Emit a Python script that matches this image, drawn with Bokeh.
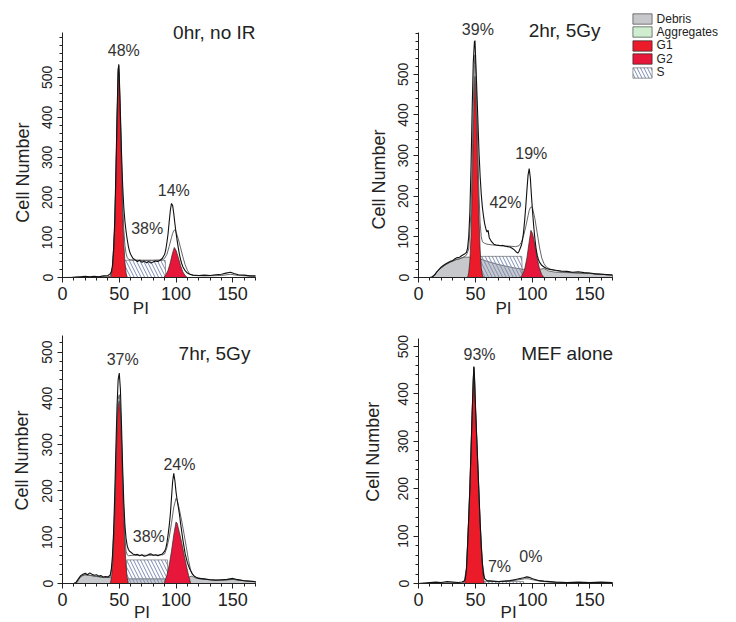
from math import pi
from bokeh.plotting import figure
from bokeh.models import Range1d, FixedTicker, Label, Legend, LegendItem
from bokeh.layouts import column, row
from bokeh.embed import file_html
from bokeh.resources import INLINE

# ---------------- data (PI channel, cell number) ----------------
X_TICKS = [0, 50, 100, 150]
Y_TICKS = [0, 100, 200, 300, 400, 500]
LEGEND_LABELS = ["Debris", "Aggregates", "G1", "G2", "S"]

# Panel 1: 0hr, no IR
tl_data = [(0,0),(8,0),(12,1),(16,2),(20,3),(24,2),(28,3),(32,2),(36,4),(40,5),(42,9),(43,14),(44,30),(45,70),(46,140),(47,260),(48,400),(49,520),(49.5,530),(50,505),(51,410),(52,310),(53,230),(54,175),(55,140),(56,115),(57,95),(58,78),(59,66),(60,58),(62,48),(64,44),(66,40),(68,43),(70,38),(72,41),(74,37),(76,40),(78,36),(80,39),(82,41),(84,40),(86,43),(88,48),(90,58),(91,70),(92,88),(93,110),(94,140),(95,168),(96,185),(97,180),(98,160),(99,135),(100,112),(101,92),(102,74),(103,58),(104,45),(105,35),(106,27),(108,17),(110,11),(112,8),(115,6),(120,5),(125,6),(130,5),(135,7),(140,8),(144,11),(148,13),(151,10),(155,7),(160,6),(165,4),(170,4)]
tl_fit = [(0,0),(20,1),(40,2),(42,3),(44,24),(46,128),(47,243),(48,383),(49,508),(49.5,533),(50,500),(51,400),(52,290),(53,190),(54,120),(55,80),(56,60),(57,50),(58,46),(60,44),(70,43),(80,43),(88,44),(90,48),(92,58),(94,78),(96,100),(97,110),(98,117),(99,119),(100,114),(102,96),(104,74),(106,52),(108,32),(110,18),(112,9),(115,5),(125,4),(140,5),(148,8),(155,5),(170,3)]
tl_g1 = [(42,0),(43,5),(44,22),(45,60),(46,125),(47,240),(48,380),(49,505),(49.5,530),(50,495),(51,390),(52,270),(53,160),(54,85),(55,38),(56,12),(57,0)]
tl_g2 = [(89,0),(91,6),(93,18),(95,38),(97,62),(98.5,75),(100,68),(102,50),(104,30),(106,14),(108,5),(110,0)]
tl_s = [(54,0),(54.5,43),(90.5,43),(91,0)]
tl_debris = [(0,0),(170,0)]
tl_aggr = [(0,0),(170,0)]

# Panel 2: 2hr, 5Gy
tr_data = [(0,0),(10,0),(12,2),(14,6),(16,14),(18,20),(20,26),(22,30),(24,34),(26,37),(28,40),(30,42),(32,46),(34,49),(36,50),(38,54),(40,57),(42,62),(43,72),(44,100),(45,160),(46,270),(47,410),(48,530),(49,580),(49.5,583),(50,545),(51,470),(52,390),(53,310),(54,250),(55,205),(56,172),(57,150),(58,132),(59,120),(60,112),(61,116),(62,98),(64,88),(66,82),(68,80),(70,79),(72,78),(74,79),(76,77),(78,76),(80,75),(82,72),(84,68),(86,62),(87,60),(88,64),(90,78),(91,90),(92,110),(93,140),(94,175),(95,215),(96,252),(97,268),(98,245),(99,200),(100,160),(101,125),(102,95),(103,72),(104,55),(105,45),(106,38),(108,30),(110,26),(112,22),(115,20),(120,18),(125,16),(130,15),(135,13),(140,14),(145,12),(150,11),(155,9),(160,8),(165,7),(170,6)]
tr_fit = [(0,0),(12,0),(14,6),(16,13),(20,24),(24,32),(28,38),(32,43),(36,46),(40,51),(42,55),(44,70),(46,160),(47,270),(48,420),(49,525),(49.5,548),(50,525),(51,435),(52,315),(53,205),(54,135),(55,100),(56,88),(58,84),(60,82),(65,80),(70,79),(75,78),(80,77),(85,76),(88,78),(90,86),(92,102),(94,125),(96,152),(97,165),(98,172),(99,174),(100,170),(102,145),(104,110),(106,75),(108,48),(110,34),(112,26),(115,21),(120,17),(130,13),(140,11),(150,10),(160,8),(170,6)]
tr_g1 = [(43,0),(44,12),(45,40),(46,100),(47,210),(48,360),(49,470),(49.5,495),(50,470),(51,380),(52,260),(53,150),(54,70),(55,25),(56,6),(57,0)]
tr_g2 = [(89,0),(91,6),(93,20),(95,48),(97,88),(98.5,116),(100,108),(102,80),(104,48),(106,22),(108,7),(110,0)]
tr_s = [(54,0),(54.5,52),(90.5,52),(91,0)]
tr_debris = [(12,0),(14,6),(16,13),(18,19),(20,24),(22,28),(24,32),(26,35),(28,38),(30,40),(32,43),(34,45),(36,46),(38,48),(40,50),(44,50),(48,49),(52,47),(56,44),(60,40),(65,36),(70,32),(75,29),(80,26),(85,23),(90,21),(95,19),(100,18),(105,20),(110,22),(114,16),(120,13),(130,12),(140,11),(150,10),(160,8),(170,6)]
tr_aggr = [(0,0),(170,0)]

# Panel 3: 7hr, 5Gy
bl_data = [(0,0),(10,0),(12,3),(14,10),(16,17),(18,20),(20,22),(22,19),(24,23),(26,20),(28,18),(30,19),(32,16),(34,17),(36,14),(38,15),(40,14),(42,18),(43,30),(44,60),(45,110),(46,190),(47,290),(48,380),(49,440),(50,455),(51,420),(52,340),(53,250),(54,175),(55,125),(56,97),(57,82),(58,74),(59,70),(60,68),(62,64),(64,62),(66,63),(68,60),(70,62),(72,59),(74,60),(76,63),(78,64),(80,61),(82,62),(84,60),(86,62),(88,64),(90,70),(91,76),(92,88),(93,105),(94,125),(95,150),(96,185),(97,220),(98,238),(99,222),(100,198),(101,180),(102,165),(103,150),(104,130),(106,95),(108,65),(110,45),(112,32),(114,22),(116,16),(118,13),(120,11),(125,10),(130,8),(135,7),(140,8),(145,9),(150,11),(153,9),(160,6),(165,5),(170,4)]
bl_fit = [(0,0),(12,0),(14,8),(16,15),(20,19),(28,16),(36,13),(42,14),(44,45),(46,160),(47,250),(48,340),(49,398),(50,408),(51,382),(52,312),(53,228),(54,155),(55,98),(56,70),(57,62),(58,60),(62,61),(70,61),(80,61),(88,62),(90,64),(92,78),(94,100),(96,130),(98,165),(100,184),(101,181),(103,160),(105,135),(107,108),(109,80),(111,50),(113,28),(115,18),(118,13),(125,9),(140,7),(150,9),(160,6),(170,4)]
bl_g1 = [(42,0),(43,10),(44,35),(45,80),(46,150),(47,240),(48,330),(49,385),(50,395),(51,370),(52,300),(53,215),(54,140),(55,80),(56,38),(57,12),(58,0)]
bl_g2 = [(89.5,0),(92,18),(94,40),(96,70),(98,105),(100,133),(101,130),(103,110),(105,88),(107,64),(109,40),(111,18),(113,0)]
bl_s = [(56,0),(56.5,51),(92.5,51),(93,0)]
bl_debris = [(12,0),(14,8),(16,15),(18,18),(20,19),(24,18),(28,16),(32,15),(36,13),(40,13),(44,12),(50,11),(60,10),(70,10),(80,10),(90,10),(100,11),(110,13),(114,16),(118,11),(125,9),(130,8),(140,7),(150,9),(160,6),(170,4)]
bl_aggr = [(0,0),(170,0)]

# Panel 4: MEF alone
br_data = [(0,0),(5,1),(10,2),(15,3),(20,2),(25,4),(30,3),(35,2),(38,3),(40,5),(41,10),(42,30),(43,80),(44,140),(45,200),(46,280),(47,360),(48,430),(48.5,458),(49,440),(50,370),(51,310),(52,250),(53,190),(54,130),(55,80),(56,42),(57,18),(58,10),(60,6),(65,5),(70,4),(75,5),(80,6),(84,8),(88,10),(92,12),(95,14),(97,13),(100,10),(103,8),(106,6),(110,5),(115,4),(120,3),(130,2),(140,3),(150,2),(160,3),(170,2)]
br_fit = [(0,0),(38,1),(40,3),(42,32),(44,138),(46,278),(48,430),(48.5,457),(49,440),(50,368),(52,248),(54,128),(56,42),(58,10),(60,5),(70,4),(80,5),(88,8),(93,10),(96,10),(100,8),(106,5),(115,3),(130,2),(150,2),(170,2)]
br_g1 = [(40.5,0),(42,30),(43,78),(44,135),(45,195),(46,275),(47,355),(48,428),(48.5,455),(49,438),(50,365),(51,305),(52,245),(53,185),(54,125),(55,75),(56,38),(57,10),(57.5,0)]
br_g2 = [(90,0),(110,0)]
br_s = [(56,0),(56.5,4),(92,4),(92.5,0)]
br_debris = [(0,0),(170,0)]
br_aggr = [(0,0),(170,0)]

titles = ["0hr, no IR", "2hr, 5Gy", "7hr, 5Gy", "MEF alone"]
# percentage annotations: (text, x, y)
tl_pct = [("48%", 54, 567), ("38%", 74.6, 122), ("14%", 98, 217)]
tr_pct = [("39%", 52, 611), ("42%", 76.2, 185), ("19%", 98.8, 306)]
bl_pct = [("37%", 53, 484), ("38%", 76, 102), ("24%", 103, 258)]
br_pct = [("93%", 53.5, 483), ("7%", 71, 36), ("0%", 98.5, 57)]

# ---------------- styling ----------------
RED_G1 = "#ec1b2a"
RED_G2 = "#e6173a"
DEBRIS = "#c7c8cc"
AGGR = "#cfeecf"
HATCH = "#7d8cb4"
SANS = "Liberation Sans"
TXT = "#222222"
EDGE = "#2a2a2a"


def split(pts):
    return [p[0] for p in pts], [p[1] for p in pts]


def area(p, pts, **kw):
    xs, ys = split(pts)
    return p.patch(xs + [xs[-1], xs[0]], ys + [0, 0], **kw)


def panel(title, canvas, origin, span, ytop, data, fit, g1, g2, s, debris, aggr, pct,
          title_xy, ylab_xy, xlab_xy):
    W, H = canvas          # canvas size (px)
    ox, oy = origin        # pixel position of data (0, 0) from canvas top-left
    xpx, ypx = span        # pixels covered by 170 PI units / ytop cells
    xs = xpx / 170.0
    ys = ypx / float(ytop)
    p = figure(frame_width=W, frame_height=H,
               x_range=Range1d(-ox / xs, (W - ox) / xs),
               y_range=Range1d(-(H - oy) / ys, oy / ys),
               output_backend="svg", toolbar_location=None, title=None,
               min_border_left=0, min_border_right=0,
               min_border_top=0, min_border_bottom=0)
    p.outline_line_color = None
    p.grid.visible = False
    p.background_fill_color = "white"
    p.border_fill_color = "white"

    p.xaxis.fixed_location = 0
    p.yaxis.fixed_location = 0
    p.xaxis.bounds = (0, 170)
    p.yaxis.bounds = (0, ytop)
    p.xaxis.ticker = FixedTicker(ticks=X_TICKS, minor_ticks=list(range(0, 171, 10)))
    p.yaxis.ticker = FixedTicker(ticks=Y_TICKS, minor_ticks=list(range(0, int(ytop) + 1, 20)))
    for ax in (p.xaxis[0], p.yaxis[0]):
        ax.axis_line_color = "#222222"
        ax.major_tick_line_color = "#222222"
        ax.minor_tick_line_color = "#222222"
        ax.major_tick_out = 5
        ax.major_tick_in = 0
        ax.minor_tick_out = 3
        ax.minor_tick_in = 0
        ax.major_label_text_font = SANS
        ax.major_label_text_color = TXT
    p.xaxis.major_label_text_font_size = "18px"
    p.xaxis.major_label_standoff = 4
    p.yaxis.major_label_text_font_size = "14px"
    p.yaxis.major_label_orientation = "vertical"
    p.yaxis.major_label_standoff = 5

    r = {}
    r["Debris"] = area(p, debris, fill_color=DEBRIS, line_color=EDGE, line_width=0.6)
    r["Aggregates"] = area(p, aggr, fill_color=AGGR, line_color=EDGE, line_width=0.6)
    r["S"] = area(p, s, fill_color="white", fill_alpha=0, hatch_pattern="\\",
                  hatch_color=HATCH, hatch_scale=7, hatch_weight=1,
                  line_color="#555555", line_width=0.6)
    r["G1"] = area(p, g1, fill_color=RED_G1, line_color=EDGE, line_width=0.7)
    r["G2"] = area(p, g2, fill_color=RED_G2, line_color=EDGE, line_width=0.7)
    fx, fy = split(fit)
    p.line(fx, fy, line_color="#555555", line_width=0.9)
    ax_, ay_ = split(data)
    p.line(ax_, ay_, line_color="#111111", line_width=1.1)

    for txt, x, y in pct:
        p.add_layout(Label(x=x, y=y, text=txt, text_font=SANS, text_font_size="16px",
                           text_color="#333333", text_align="center", text_baseline="middle"))
    p.add_layout(Label(x=title_xy[0], y=title_xy[1], text=title, text_font=SANS,
                       text_font_size="19px", text_color=TXT, text_align="right",
                       text_baseline="middle"))
    p.add_layout(Label(x=ylab_xy[0], y=ylab_xy[1], text="Cell Number", text_font=SANS,
                       text_font_size="18px", text_color=TXT, text_align="center",
                       text_baseline="middle", angle=pi / 2))
    p.add_layout(Label(x=xlab_xy[0], y=xlab_xy[1], text="PI", text_font=SANS,
                       text_font_size="17px", text_color=TXT, text_align="center",
                       text_baseline="middle"))
    return p, r


p1, _ = panel(titles[0], (295, 333), (62, 277), (193, 245), 612, tl_data, tl_fit, tl_g1, tl_g2,
              tl_s, tl_debris, tl_aggr, tl_pct, (170, 612), (-35, 262), (69, -78))
p2, r2 = panel(titles[1], (441, 333), (123, 277), (194, 245), 603, tr_data, tr_fit, tr_g1, tr_g2,
               tr_s, tr_debris, tr_aggr, tr_pct, (159.5, 607), (-35, 241), (74.5, -76))
p3, _ = panel(titles[2], (295, 289), (62, 250), (193, 248), 536, bl_data, bl_fit, bl_g1, bl_g2,
              bl_s, bl_debris, bl_aggr, bl_pct, (165.5, 497), (-35.5, 266), (70, -63))
p4, _ = panel(titles[3], (441, 289), (123, 250), (194, 245), 517, br_data, br_fit, br_g1, br_g2,
              br_s, br_debris, br_aggr, br_pct, (170.5, 486), (-40, 278), (79, -62))

# legend (ModFit style key) on panel 2: one row per key, rows placed close together
row_bottoms = [307.5, 294.1, 280.7, 267.3, 253.9]   # px above the bottom of panel 2's canvas
for lab, yb in zip(LEGEND_LABELS, row_bottoms):
    leg = Legend(items=[LegendItem(label=lab, renderers=[r2[lab]])], location=(334.6, yb),
                 orientation="vertical", border_line_color=None, background_fill_alpha=0,
                 padding=0, margin=0, spacing=0, glyph_width=24, glyph_height=13,
                 label_height=13, label_standoff=3, label_text_font=SANS,
                 label_text_font_size="12px", label_text_color=TXT)
    p2.add_layout(leg)

layout = column(row(p1, p2), row(p3, p4))
open("out.html", "w").write(file_html(layout, INLINE))
